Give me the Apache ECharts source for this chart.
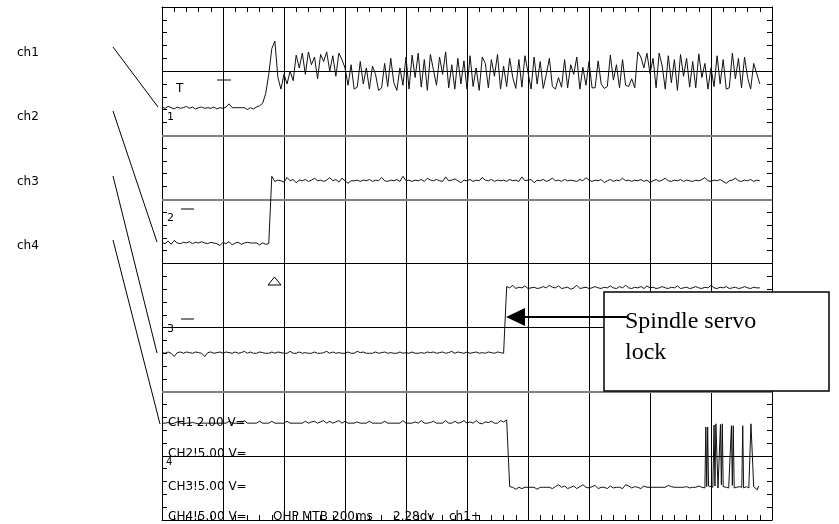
<!DOCTYPE html>
<html>
<head>
<meta charset="utf-8">
<script src="https://cdn.jsdelivr.net/npm/echarts@6/dist/echarts.min.js"></script>
<style>
  html, body { margin: 0; padding: 0; background: #fff; }
  #chart { width: 839px; height: 524px; }
</style>
</head>
<body>
<div id="chart"></div>
<script>
// values in screen divisions (x: 0..10, y: 0..8 from the bottom)
const STEP = 0.05

const ch1 = [
  6.44, 6.42, 6.45, 6.43, 6.41, 6.44, 6.42, 6.43, 6.45, 6.42, 6.44, 6.41, 6.43, 6.44, 6.42, 6.43, 6.42, 6.44, 6.41, 6.43,
  6.42, 6.44, 6.49, 6.43, 6.43, 6.43, 6.43, 6.43, 6.40, 6.43, 6.41, 6.44, 6.46, 6.50,
  6.65, 6.95, 7.35, 7.47, 6.90, 6.72, 6.95, 6.80, 7.00, 6.85,
  7.25, 7.05, 7.28, 6.95, 7.30, 7.10, 7.22, 6.88, 7.26, 7.15, 7.30, 7.00, 7.24, 6.92, 7.28, 7.18, 7.05,
  6.78, 7.10, 6.72, 6.75, 7.15, 6.80, 7.05, 6.72, 7.08, 6.95, 6.70, 6.74, 7.12, 6.76, 7.20, 6.82, 6.70, 7.05, 6.78, 7.22,
  6.72, 7.25, 6.90, 7.28, 6.75, 7.18, 6.70, 7.26, 7.02, 6.78, 7.22, 6.95, 7.30, 6.74, 7.10, 6.72, 7.20, 6.80, 7.16, 6.72,
  7.24, 6.76, 7.05, 6.70, 7.22, 7.12, 6.74, 7.18, 6.92, 7.26, 6.72, 7.08, 6.76, 7.20, 6.90, 6.73, 7.18, 6.75, 7.24, 6.98,
  6.72, 7.22, 6.80, 7.15, 6.73, 6.95, 7.20, 6.76, 6.72, 6.90, 6.75, 7.18, 6.74, 7.10, 6.95, 7.22, 6.72, 7.06, 6.78, 7.15,
  6.74, 6.74, 7.16, 6.80, 6.73, 6.76, 7.25, 6.86, 7.10, 6.74, 7.18, 6.78, 6.76, 6.88, 6.74, 7.30, 7.22, 7.05, 7.28, 6.96,
  7.20, 6.74, 7.28, 7.08, 6.72, 7.24, 6.82, 7.18, 6.70, 7.26, 6.92, 7.20, 6.75, 7.15, 6.74, 7.27, 6.90, 7.12, 6.72, 7.05,
  6.76, 7.24, 6.80, 7.18, 6.72, 6.74, 7.28, 6.88, 7.20, 6.74, 7.22, 6.90, 6.72, 7.12, 6.96, 6.80
]

const ch2 = [
  4.33, 4.31, 4.35, 4.30, 4.36, 4.32, 4.31, 4.33, 4.32, 4.34, 4.31, 4.33, 4.32, 4.34, 4.32, 4.31, 4.33, 4.32, 4.31, 4.28,
  4.33, 4.31, 4.34, 4.29, 4.32, 4.33, 4.30, 4.32, 4.33, 4.32, 4.32, 4.32, 4.29, 4.32, 4.30, 4.31,
  5.36, 5.28, 5.30, 5.29, 5.27, 5.34, 5.29, 5.31, 5.26, 5.30, 5.29, 5.31, 5.28, 5.30, 5.33, 5.29, 5.30, 5.28, 5.30, 5.34,
  5.29, 5.31, 5.27, 5.33, 5.29, 5.25, 5.29, 5.29, 5.30, 5.28, 5.30, 5.29, 5.31, 5.28, 5.30, 5.29, 5.34, 5.29, 5.28, 5.30,
  5.29, 5.31, 5.28, 5.36, 5.29, 5.30, 5.28, 5.30, 5.29, 5.31, 5.28, 5.33, 5.30, 5.29, 5.31, 5.29, 5.28, 5.35, 5.29, 5.30,
  5.32, 5.29, 5.26, 5.30, 5.29, 5.31, 5.28, 5.30, 5.29, 5.34, 5.30, 5.29, 5.31, 5.28, 5.30, 5.29, 5.30, 5.28, 5.31, 5.29,
  5.30, 5.28, 5.35, 5.29, 5.30, 5.31, 5.26, 5.30, 5.29, 5.31, 5.28, 5.30, 5.33, 5.29, 5.30, 5.28, 5.31, 5.29, 5.30, 5.29,
  5.28, 5.31, 5.29, 5.34, 5.30, 5.28, 5.30, 5.29, 5.31, 5.26, 5.29, 5.31, 5.28, 5.30, 5.29, 5.33, 5.29, 5.30, 5.28, 5.30,
  5.29, 5.31, 5.28, 5.30, 5.26, 5.29, 5.31, 5.28, 5.30, 5.33, 5.29, 5.28, 5.30, 5.29, 5.31, 5.28, 5.30, 5.29, 5.28, 5.30,
  5.29, 5.31, 5.34, 5.29, 5.28, 5.30, 5.29, 5.31, 5.28, 5.25, 5.29, 5.30, 5.33, 5.29, 5.28, 5.30, 5.29, 5.31, 5.28, 5.30,
  5.29
]

const ch3 = [
  2.61, 2.60, 2.62, 2.60, 2.55, 2.61, 2.62, 2.60, 2.62, 2.61, 2.60, 2.62, 2.61, 2.60, 2.55, 2.61, 2.62, 2.60, 2.61, 2.62,
  2.60, 2.62, 2.61, 2.60, 2.62, 2.60, 2.61, 2.63, 2.60, 2.62, 2.60, 2.60, 2.62, 2.61, 2.60, 2.60, 2.62, 2.60, 2.62, 2.61,
  2.60, 2.60, 2.63, 2.60, 2.60, 2.62, 2.60, 2.61, 2.60, 2.60, 2.62, 2.60, 2.60, 2.61, 2.63, 2.60, 2.62, 2.60, 2.61, 2.60,
  2.60, 2.62, 2.60, 2.60, 2.63, 2.61, 2.62, 2.60, 2.60, 2.60, 2.62, 2.60, 2.61, 2.62, 2.60, 2.61, 2.60, 2.60, 2.62, 2.60,
  2.61, 2.60, 2.62, 2.60, 2.60, 2.61, 2.60, 2.62, 2.61, 2.62, 2.60, 2.61, 2.62, 2.60, 2.61, 2.63, 2.60, 2.62, 2.61, 2.60,
  2.62, 2.60, 2.61, 2.62, 2.60, 2.61, 2.60, 2.62, 2.61, 2.60, 2.62, 2.61, 2.60,
  3.64, 3.62, 3.66, 3.61, 3.63, 3.62, 3.65, 3.61, 3.62, 3.63, 3.61, 3.62, 3.64, 3.62, 3.66, 3.63, 3.62, 3.65, 3.61, 3.62,
  3.63, 3.60, 3.62, 3.66, 3.61, 3.62, 3.63, 3.61, 3.62, 3.64, 3.62, 3.61, 3.63, 3.62, 3.65, 3.62, 3.61, 3.64, 3.62, 3.66,
  3.62, 3.61, 3.63, 3.62, 3.64, 3.61, 3.65, 3.62, 3.63, 3.61, 3.62, 3.64, 3.62, 3.61, 3.63, 3.62, 3.65, 3.61, 3.62, 3.63,
  3.61, 3.62, 3.64, 3.62, 3.61, 3.63, 3.62, 3.66, 3.62, 3.61, 3.63, 3.62, 3.64, 3.61, 3.62, 3.63, 3.61, 3.62, 3.64, 3.62,
  3.61, 3.63, 3.62, 3.62
]

const ch4 = [
  1.51, 1.51, 1.52, 1.50, 1.51, 1.53, 1.51, 1.50, 1.51, 1.51, 1.52, 1.51, 1.50, 1.51, 1.51, 1.51, 1.51, 1.51, 1.51, 1.51,
  1.51, 1.51, 1.54, 1.51, 1.51, 1.51, 1.51, 1.55, 1.51, 1.51, 1.51, 1.51, 1.54, 1.51, 1.51, 1.51, 1.54, 1.51, 1.51, 1.51,
  1.51, 1.54, 1.51, 1.51, 1.51, 1.51, 1.51, 1.54, 1.51, 1.53, 1.54, 1.51, 1.53, 1.55, 1.51, 1.54, 1.51, 1.53, 1.55, 1.51,
  1.54, 1.51, 1.51, 1.51, 1.53, 1.51, 1.51, 1.51, 1.54, 1.51, 1.51, 1.51, 1.51, 1.54, 1.51, 1.51, 1.51, 1.51, 1.51, 1.55,
  1.51, 1.51, 1.51, 1.53, 1.51, 1.55, 1.51, 1.51, 1.52, 1.54, 1.51, 1.51, 1.51, 1.55, 1.51, 1.51, 1.54, 1.51, 1.52, 1.55,
  1.51, 1.53, 1.51, 1.55, 1.51, 1.50, 1.53, 1.52, 1.54, 1.51, 1.51, 1.55, 1.53, 1.56,
  0.52, 0.51, 0.48, 0.51, 0.49, 0.51, 0.51, 0.51, 0.51, 0.48, 0.51, 0.51, 0.51, 0.51, 0.49, 0.52, 0.55, 0.51, 0.53, 0.49,
  0.51, 0.53, 0.49, 0.52, 0.55, 0.51, 0.50, 0.52, 0.54, 0.49, 0.51, 0.51, 0.49, 0.53, 0.50, 0.51, 0.51, 0.49, 0.55, 0.53,
  0.50, 0.52, 0.51, 0.49, 0.53, 0.51, 0.51, 0.51, 0.51, 0.51, 0.51, 0.51, 0.54, 0.52, 0.51, 0.51, 0.51, 0.51, 0.52, 0.50,
  0.51, 0.51, 0.53, 0.51
]

// the burst at the end of ch4 is sampled finer
const ch4BurstT = [8.90, 8.915, 8.93, 8.945, 8.96, 8.975, 8.99, 9.03, 9.05, 9.065, 9.08, 9.10, 9.115, 9.14, 9.155, 9.17, 9.185, 9.20, 9.215, 9.25,
  9.29, 9.32, 9.335, 9.35, 9.365, 9.38, 9.42, 9.47, 9.505, 9.52, 9.535, 9.58, 9.62, 9.64, 9.655, 9.685, 9.70, 9.73, 9.76, 9.78]
const ch4BurstV = [0.50, 1.45, 0.52, 1.45, 0.53, 0.50, 0.52, 0.51, 1.48, 0.53, 1.50, 1.50, 0.50, 0.52, 1.49, 0.55, 1.50, 0.52, 0.50, 0.51,
  0.50, 0.52, 1.47, 0.54, 1.47, 0.50, 0.51, 0.52, 0.51, 1.47, 0.50, 0.52, 0.50, 0.51, 1.50, 1.50, 0.52, 0.49, 0.47, 0.53]

const channelNames = ['ch1', 'ch2', 'ch3', 'ch4']
const scaleLines = ['CH1 2.00 V=', 'CH2!5.00 V=', 'CH3!5.00 V=', 'CH4!5.00 V=']
const statusWords = ['OHP', 'MTB', '200ms', '2.28dv', 'ch1+']
const statusX = [273, 302, 332, 393, 449]
// horizontal division lines drawn grey and thicker on the scope print
const grayLevels = [2, 5, 6]

const toPoints = (vals) => vals.map((v, i) => [i * STEP, v])
const ch4Points = toPoints(ch4).concat(ch4BurstT.map((t, i) => [t, ch4BurstV[i]]))

// axes tick every 1/5 division; split lines only show on every 5th tick
const NONE = 'rgba(0,0,0,0)'
const vColors = []
for (let k = 0; k <= 50; k++) vColors.push(k % 5 === 0 ? '#000' : NONE)
const hColors = []
for (let k = 0; k <= 40; k++) hColors.push(k % 5 === 0 && grayLevels.indexOf(k / 5) < 0 ? '#000' : NONE)

const chart = echarts.init(document.getElementById('chart'), null, { renderer: 'canvas' })

const edgeAxis = (extra) => Object.assign({
  type: 'value',
  interval: 0.2,
  axisLine: { show: true, onZero: false, lineStyle: { color: '#000', width: 1 } },
  axisTick: { show: true, inside: true, length: 5, lineStyle: { color: '#000', width: 1 } },
  axisLabel: { show: false },
  splitLine: { show: false }
}, extra)

const trace = (data) => ({
  type: 'line',
  data: data,
  showSymbol: false,
  symbol: 'none',
  lineStyle: { color: '#111', width: 1 },
  z: 3
})

const txt = (text, x, y, size, extra) => ({
  type: 'text',
  x: x,
  y: y,
  z: 50,
  style: Object.assign({ text: text, font: size + 'px "DejaVu Sans"', fill: '#000', verticalAlign: 'middle' }, extra)
})
const seg = (x1, y1, x2, y2, w) => ({
  type: 'line',
  z: 50,
  shape: { x1, y1, x2, y2 },
  style: { stroke: '#000', lineWidth: w || 1 }
})

const labelY = [53, 117, 182, 246]
const leaderEnds = [[158, 107], [157, 242], [157, 353], [160, 424]]
const bottomY = [423, 454, 487, 517]

const graphics = []
channelNames.forEach((n, i) => {
  graphics.push(txt(n, 17, labelY[i], 12))
  graphics.push(seg(113, labelY[i] - 6, leaderEnds[i][0], leaderEnds[i][1]))
})
scaleLines.forEach((s, i) => graphics.push(txt(s, 168, bottomY[i], 12)))
statusWords.forEach((s, i) => graphics.push(txt(s, statusX[i], bottomY[3], 12)))

// channel ground / trigger markers
graphics.push(
  txt('T', 176, 89, 12),
  seg(217, 80, 231, 80),
  txt('1', 167, 117, 11),
  txt('2', 167, 218, 11),
  seg(181, 209, 194, 209),
  txt('3', 167, 329, 11),
  seg(181, 319, 194, 319),
  txt('4', 166, 462, 10),
  { type: 'polygon', z: 50, shape: { points: [[268, 285], [281, 285], [274.5, 277]] }, style: { fill: 'none', stroke: '#000', lineWidth: 1 } }
)

// annotation box with arrow
graphics.push(
  { type: 'rect', z: 60, shape: { x: 604, y: 292, width: 225, height: 99 }, style: { fill: '#fff', stroke: '#000', lineWidth: 1.5 } },
  { type: 'text', z: 61, x: 625, y: 322, style: { text: 'Spindle servo', font: '24px "Liberation Serif"', fill: '#000', verticalAlign: 'middle' } },
  { type: 'text', z: 61, x: 625, y: 353, style: { text: 'lock', font: '24px "Liberation Serif"', fill: '#000', verticalAlign: 'middle' } },
  { type: 'line', z: 62, shape: { x1: 522, y1: 317, x2: 627, y2: 317 }, style: { stroke: '#000', lineWidth: 2 } },
  { type: 'polygon', z: 62, shape: { points: [[506, 317], [525, 308], [525, 326]] }, style: { fill: '#000' } }
)

const ch1Series = trace(toPoints(ch1))
ch1Series.markLine = {
  silent: true,
  symbol: 'none',
  label: { show: false },
  lineStyle: { color: '#808080', width: 2, type: 'solid' },
  z: 1,
  data: grayLevels.map(v => ({ yAxis: v }))
}

chart.setOption({
  animation: false,
  backgroundColor: '#fff',
  grid: { left: 162, right: 67, top: 7, bottom: 4 },
  xAxis: [
    edgeAxis({ min: 0, max: 10, position: 'bottom', splitLine: { show: true, lineStyle: { color: vColors, width: 1 } } }),
    edgeAxis({ min: 0, max: 10, position: 'top' })
  ],
  yAxis: [
    edgeAxis({ min: 0, max: 8, position: 'left', splitLine: { show: true, lineStyle: { color: hColors, width: 1 } } }),
    edgeAxis({ min: 0, max: 8, position: 'right' })
  ],
  series: [
    ch1Series,
    trace(toPoints(ch2)),
    trace(toPoints(ch3)),
    trace(ch4Points)
  ],
  graphic: graphics
})
</script>
</body>
</html>
